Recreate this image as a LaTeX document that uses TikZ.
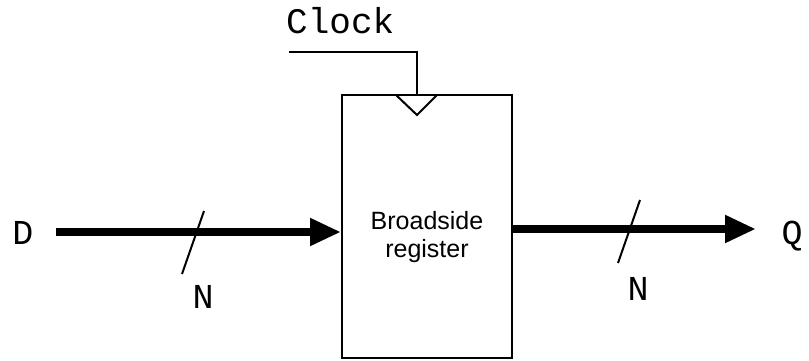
\documentclass[tikz,border=0pt]{standalone}
\usepackage{fontspec}
\setmainfont{Liberation Sans}
\newfontfamily\monofont{Liberation Mono}
\usetikzlibrary{arrows.meta}
\tikzset{
    bus/.style = {line width = 8pt, -{Triangle[length = 31pt, width = 26pt]}},
    sig/.style = {anchor = base, inner sep = 0pt, font = \monofont\fontsize{35}{40}\selectfont}
}
\begin{document}
\begin{tikzpicture}[x = 1pt, y = 1pt]
    \useasboundingbox (0, 0) rectangle (809, 360);
        % register
        \node[draw, line width = 2pt, minimum width = 170pt, minimum height = 263pt, inner sep = 0pt] (reg) at (427, 133.5) {};
        \node[align = center, font = \fontsize{25}{28}\selectfont] (lbl) at (427, 123) {Broadside\\register};
        \draw[line width = 2pt, line join = miter] (396, 265) -- (417, 245) -- (437, 265);
        % clock
        \node[sig, anchor = base west, font = \monofont\fontsize{36}{40}\selectfont] (clktxt) at (286, 327) {Clock};
        \coordinate (clk) at (289, 308);
        \coordinate (clkin) at (417, 265);
        \draw[line width = 2pt] (clk) -| (clkin);
        % data in and out
        \node[sig] (d) at (23, 116) {D};
        \node[sig] (q) at (792, 116) {Q};
        \coordinate (din) at (56, 128);
        \coordinate (qout) at (756, 131);
        \draw[bus] (din) -- (reg.west |- din);
        \draw[bus] (reg.east |- qout) -- (qout);
        % bus widths
        \foreach \x/\y in {182/86, 618/97}{
        	\draw[line width = 2pt] (\x, \y) -- ++(22, 63);
        }
        \node[sig] (nin) at (203, 52) {N};
        \node[sig] (nout) at (638, 60) {N};
  \end{tikzpicture}
\end{document}
